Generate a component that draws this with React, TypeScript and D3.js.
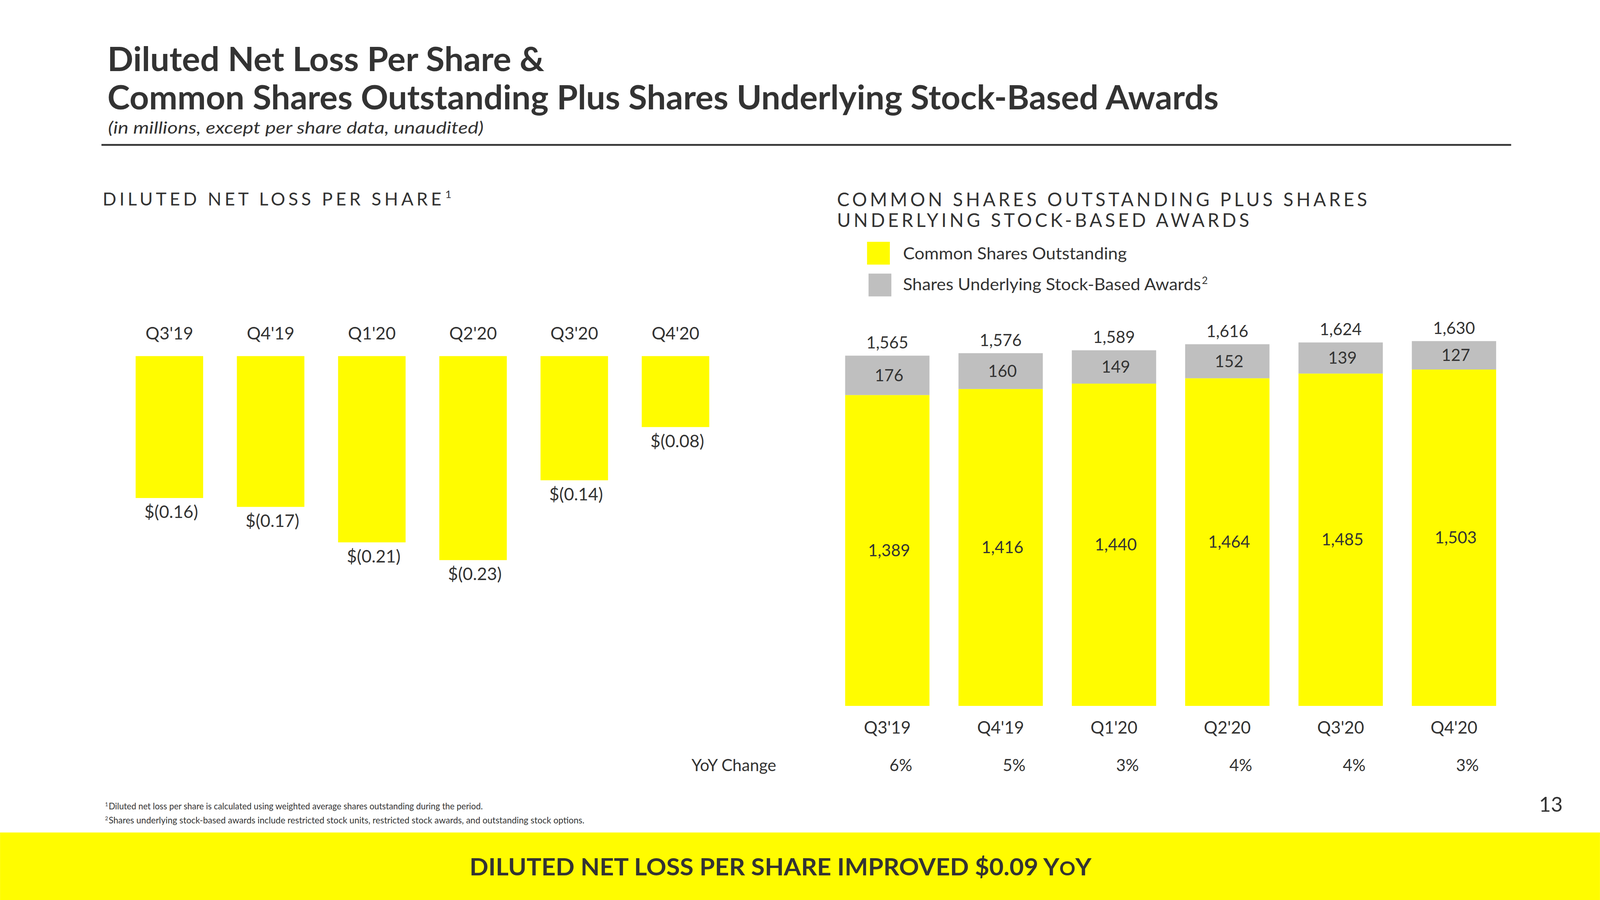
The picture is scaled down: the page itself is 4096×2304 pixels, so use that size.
import React, { useEffect } from "react";
import * as d3 from "d3";

const quarters = ["Q3'19", "Q4'19", "Q1'20", "Q2'20", "Q3'20", "Q4'20"];
const epsValues = [-0.16, -0.17, -0.21, -0.23, -0.14, -0.08];
const commonShares = [1389, 1416, 1440, 1464, 1485, 1503];
const awardShares = [176, 160, 149, 152, 139, 127];
const yoyChange = ["6%", "5%", "3%", "4%", "4%", "3%"];

const YELLOW = "#FFFC00";
const GRAY = "#BFBFBF";
const INK = "#333333";
const FONT = "Lato, 'Noto Sans', sans-serif";

export default function App() {
  useEffect(() => {
    document.body.style.margin = "0";
    document.body.style.background = "#fff";
  }, []);

  // Left chart scales
  const xL = d3.scaleBand<string>().domain(quarters).range([452, 2364]).paddingInner(0.333).paddingOuter(0);
  const yL = d3.scaleLinear().domain([0, 0.23]).range([1187, 1867]);

  // Right chart scales
  const xR = d3.scaleBand<string>().domain(quarters).range([2817, 4987]).paddingInner(0.256).paddingOuter(0);
  const totals = commonShares.map((c, i) => c + awardShares[i]);
  const yR = d3.scaleLinear().domain([0, 1630]).range([2353, 1137]);

  const stackData = quarters.map((q, i) => ({ q, common: commonShares[i], awards: awardShares[i] }));
  const series = d3.stack<any>().keys(["common", "awards"])(stackData);
  const fmt = d3.format(",");

  return (
    <svg width={4096} height={2304} viewBox="0 0 5333 3000" style={{ display: "block" }} fontFamily={FONT}>
      <rect x={0} y={0} width={5333} height={3000} fill="#fff" />

      {/* Title */}
      <text x={358} y={237} fontSize={113} fontWeight={700} fill={INK} textLength={1456} lengthAdjust="spacingAndGlyphs">
        Diluted Net Loss Per Share &amp;
      </text>
      <text x={358} y={365} fontSize={113} fontWeight={700} fill={INK} textLength={3704} lengthAdjust="spacingAndGlyphs">
        Common Shares Outstanding Plus Shares Underlying Stock-Based Awards
      </text>
      <text x={360} y={445} fontSize={56} fontStyle="italic" fill={INK} textLength={1252} lengthAdjust="spacingAndGlyphs">
        (in millions, except per share data, unaudited)
      </text>
      <rect x={338} y={480} width={4699} height={6} fill={INK} />

      {/* Left heading */}
      <text x={342} y={685} fontSize={60} fill={INK} textLength={1129} lengthAdjust="spacing">
        DILUTED NET LOSS PER SHARE
      </text>
      <text x={1484} y={660} fontSize={36} fill={INK}>1</text>

      {/* Left chart */}
      {quarters.map((q, i) => (
        <g key={"l" + q}>
          <text x={xL(q)! + xL.bandwidth() / 2} y={1131} fontSize={58} fill={INK} textAnchor="middle">
            {q}
          </text>
          <rect
            x={xL(q)!}
            y={yL(0)}
            width={xL.bandwidth()}
            height={yL(Math.abs(epsValues[i])) - yL(0)}
            fill={YELLOW}
          />
          <text
            x={xL(q)! + xL.bandwidth() / 2 + 6}
            y={yL(Math.abs(epsValues[i])) + 67}
            fontSize={58}
            fill={INK}
            textAnchor="middle"
          >
            {`$(${Math.abs(epsValues[i]).toFixed(2)})`}
          </text>
        </g>
      ))}

      {/* Right heading */}
      <text x={2790} y={687} fontSize={62} fill={INK} textLength={1767} lengthAdjust="spacing">
        COMMON SHARES OUTSTANDING PLUS SHARES
      </text>
      <text x={2790} y={757} fontSize={62} fill={INK} textLength={1374} lengthAdjust="spacing">
        UNDERLYING STOCK-BASED AWARDS
      </text>

      {/* Legend */}
      <rect x={2890} y={806} width={76} height={76} fill={YELLOW} />
      <text x={3010} y={865} fontSize={56} fill={INK} textLength={746} lengthAdjust="spacingAndGlyphs">
        Common Shares Outstanding
      </text>
      <rect x={2895} y={912} width={76} height={76} fill={GRAY} />
      <text x={3010} y={967} fontSize={56} fill={INK} textLength={993} lengthAdjust="spacingAndGlyphs">
        Shares Underlying Stock-Based Awards
      </text>
      <text x={4006} y={947} fontSize={34} fill={INK}>2</text>

      {/* Right chart stacked bars */}
      {series.map((s, si) => (
        <g key={"s" + si} fill={si === 0 ? YELLOW : GRAY}>
          {s.map((d: any, i: number) => (
            <rect
              key={i}
              x={xR(quarters[i])!}
              y={yR(d[1])}
              width={xR.bandwidth()}
              height={yR(d[0]) - yR(d[1])}
            />
          ))}
        </g>
      ))}
      {series.map((s, si) =>
        s.map((d: any, i: number) => (
          <text
            key={"sl" + si + i}
            x={xR(quarters[i])! + xR.bandwidth() / 2 + 6}
            y={(yR(d[0]) + yR(d[1])) / 2}
            dy="0.35em"
            fontSize={55}
            fill={INK}
            textAnchor="middle"
          >
            {fmt(d[1] - d[0])}
          </text>
        ))
      )}
      {quarters.map((q, i) => (
        <g key={"r" + q}>
          <text x={xR(q)! + xR.bandwidth() / 2} y={yR(totals[i]) - 24} fontSize={55} fill={INK} textAnchor="middle">
            {fmt(totals[i])}
          </text>
          <text x={xR(q)! + xR.bandwidth() / 2} y={2445} fontSize={57} fill={INK} textAnchor="middle">
            {q}
          </text>
          <text x={xR(q)! + xR.bandwidth() / 2 + 45} y={2570} fontSize={55} fill={INK} textAnchor="middle">
            {yoyChange[i]}
          </text>
        </g>
      ))}
      <text x={2305} y={2570} fontSize={55} fill={INK}>YoY Change</text>

      {/* Footnotes */}
      <text x={350} y={2688} fontSize={17} fill={INK}>1</text>
      <text x={362} y={2698} fontSize={29} fill={INK} textLength={1247} lengthAdjust="spacingAndGlyphs">
        Diluted net loss per share is calculated using weighted average shares outstanding during the period.
      </text>
      <text x={350} y={2735} fontSize={17} fill={INK}>2</text>
      <text x={362} y={2745} fontSize={29} fill={INK} textLength={1586} lengthAdjust="spacingAndGlyphs">
        Shares underlying stock-based awards include restricted stock units, restricted stock awards, and outstanding stock options.
      </text>

      {/* Page number */}
      <text x={5130} y={2706} fontSize={68} fill={INK}>13</text>

      {/* Bottom banner */}
      <rect x={0} y={2775} width={5333} height={225} fill={YELLOW} />
      <text x={1565} y={2918} fontSize={80} fontWeight={700} fill={INK} textLength={2073} lengthAdjust="spacingAndGlyphs">
        DILUTED NET LOSS PER SHARE IMPROVED $0.09 Y<tspan fontSize={64}>O</tspan>Y
      </text>
    </svg>
  );
}
